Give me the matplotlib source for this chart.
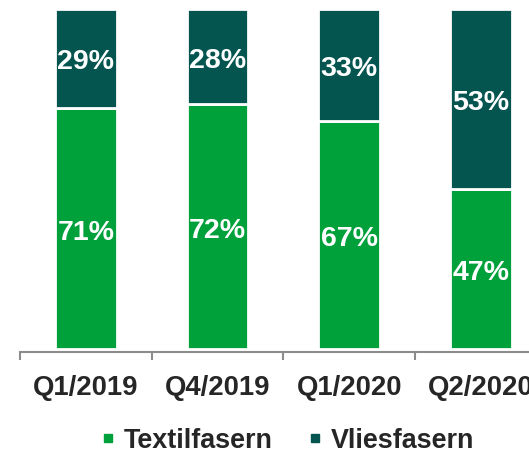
import matplotlib
matplotlib.use("Agg")
import matplotlib.pyplot as plt
from matplotlib.lines import Line2D

categories = ["Q1/2019", "Q4/2019", "Q1/2020", "Q2/2020"]
textil = [71, 72, 67, 47]
vlies = [29, 28, 33, 53]
series_names = ["Textilfasern", "Vliesfasern"]

GREEN = "#00A03A"
TEAL = "#04544F"
TXT = "#262626"

plt.rcParams['font.family'] = ['Liberation Sans', 'DejaVu Sans']

W, H = 529, 456
fig = plt.figure(figsize=(W / 100, H / 100), dpi=100)
left_px, right_px, top_px, bot_px = 20, 529, 10, 352.7
unit = 131.7
ax = fig.add_axes([left_px / W, 1 - bot_px / H, (right_px - left_px) / W, (bot_px - top_px) / H])

x = list(range(len(categories)))
bw = 0.47
b1 = ax.bar(x, textil, width=bw, color=GREEN, edgecolor="white", linewidth=2.0)
b2 = ax.bar(x, vlies, width=bw, bottom=textil, color=TEAL, edgecolor="white", linewidth=2.0)

for bars, vals in ((b1, textil), (b2, vlies)):
    for rect, v in zip(bars, vals):
        ax.text(rect.get_x() + rect.get_width() / 2, rect.get_y() + rect.get_height() / 2 - 0.9,
                f"{v}%", ha="center", va="center", color="white", fontsize=20.5, fontweight="bold")

ax.set_xlim(-0.5, -0.5 + (right_px - left_px) / unit)
ax.set_ylim(-0.7, 100)

for s in ["top", "right", "left"]:
    ax.spines[s].set_visible(False)
ax.spines["bottom"].set_color("#8C8C8C")
ax.spines["bottom"].set_linewidth(1.5)
ax.set_yticks([])
ax.set_xticks(x)
ax.set_xticklabels(categories, fontsize=19.8, fontweight="bold", color=TXT)
ax.tick_params(axis="x", which="major", length=0, pad=16)
ax.set_xticks([i - 0.5 for i in x], minor=True)
ax.tick_params(axis="x", which="minor", length=6, width=1.5, color="#8C8C8C", direction="out")

handles = [Line2D([], [], marker="s", linestyle="none", markersize=5.8, color=GREEN),
           Line2D([], [], marker="s", linestyle="none", markersize=5.8, color=TEAL)]
leg = fig.legend(handles, series_names, loc="center", bbox_to_anchor=(0.5435, 0.033),
                 ncol=2, frameon=False, handlelength=0.5, handletextpad=0.34,
                 columnspacing=1.3, borderaxespad=0, borderpad=0,
                 prop={"size": 19.4, "weight": "bold"})
for t in leg.get_texts():
    t.set_color(TXT)

fig.savefig("out.png", dpi=100)
